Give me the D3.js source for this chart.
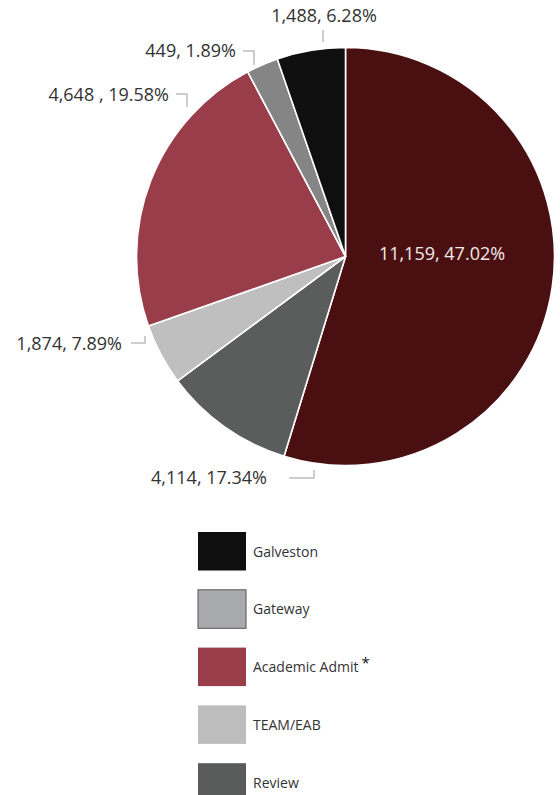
<!DOCTYPE html>
<html>
<head>
<meta charset="utf-8">
<script src="https://cdnjs.cloudflare.com/ajax/libs/d3/7.8.5/d3.min.js"></script>
<style>
    body { margin: 0; background: #fff; }
    svg text { font-family: "Open Sans", "Noto Sans", sans-serif; }
</style>
</head>
<body>
<div id="chart"></div>
<script>
// slices in drawing order, clockwise from 12 o'clock
const categories = ["Main", "Review", "TEAM/EAB", "Academic Admit", "Gateway", "Galveston"];
// slice sizes as drawn in the picture (percent of circle)
const drawnShares = [54.75, 10.1, 4.75, 22.65, 2.46, 5.29];
// printed label values
const counts = ["11,159", "4,114", "1,874", "4,648 ", "449", "1,488"];
const percents = ["47.02%", "17.34%", "7.89%", "19.58%", "1.89%", "6.28%"];
const sliceColours = ["#4a1011", "#5b5d5c", "#bfbfbf", "#9a3d4a", "#858585", "#0f0f0f"];

const legendNames = ["Galveston", "Gateway", "Academic Admit", "TEAM/EAB", "Review"];
const legendColours = ["#0f0f0f", "#a9aaae", "#9a3d4a", "#bdbdbd", "#5a5c5b"];

const WIDTH = 560;
const HEIGHT = 795;
const CENTER_X = 345.5;
const CENTER_Y = 256.5;
const RADIUS = 209;
const LEADER = "#bdbdbd";
const TEXT = "#333";
const LABEL_SIZE = 18;

// callout placement: text anchor point + leader polyline, by slice index
const callouts = [
    null,
    { tx: 267, ty: 484, anchor: "end", line: [[289, 478], [314, 478], [314, 470]] },
    { tx: 122, ty: 350, anchor: "end", line: [[131, 343], [145, 343], [145, 336]] },
    { tx: 169, ty: 101, anchor: "end", line: [[176, 94], [187, 94], [187, 107]] },
    { tx: 236, ty: 57, anchor: "end", line: [[243, 51], [254, 51], [254, 65]] },
    { tx: 324, ty: 22, anchor: "middle", line: [[323, 30], [323, 42]] }
];

function plotPie(svg) {
    const pie = d3.pie().sort(null).value(d => d.share);
    const arc = d3.arc().innerRadius(0).outerRadius(RADIUS);
    const dataset = categories.map((name, i) => ({ name: name, share: drawnShares[i], index: i }));

    const g = svg.append("g")
        .attr("transform", `translate(${ CENTER_X }, ${ CENTER_Y })`);

    g.selectAll("path")
        .data(pie(dataset))
        .enter()
        .append("path")
            .attr("d", arc)
            .attr("fill", d => sliceColours[d.data.index])
            .attr("stroke", "#fff")
            .attr("stroke-width", 1.6)
            .attr("stroke-linejoin", "round");

    // main slice label sits inside
    g.append("text")
        .attr("x", 96.5)
        .attr("y", 3)
        .attr("text-anchor", "middle")
        .attr("font-size", LABEL_SIZE)
        .attr("fill", "#f2eaea")
        .text(counts[0] + ", " + percents[0]);
}

function plotCallouts(svg) {
    const line = d3.line();
    callouts.forEach((c, i) => {
        if (!c) return;
        svg.append("path")
            .attr("d", line(c.line))
            .attr("fill", "none")
            .attr("stroke", LEADER)
            .attr("stroke-width", 1.5);
        svg.append("text")
            .attr("x", c.tx)
            .attr("y", c.ty)
            .attr("text-anchor", c.anchor)
            .attr("font-size", LABEL_SIZE)
            .attr("fill", TEXT)
            .text(counts[i] + ", " + percents[i]);
    });
}

function plotLegend(svg) {
    const y = d3.scaleBand()
        .domain(legendNames)
        .range([532, 532 + 57.8 * legendNames.length]);

    const items = svg.selectAll(".legend")
        .data(legendNames)
        .enter()
        .append("g")
            .attr("class", "legend")
            .attr("transform", d => `translate(198, ${ y(d) })`);

    items.append("rect")
        .attr("width", 48)
        .attr("height", 38.5)
        .attr("fill", (d, i) => legendColours[i])
        .attr("stroke", d => d === "Gateway" ? "#555" : "none")
        .attr("stroke-width", 1);

    const label = items.append("text")
        .attr("x", 55)
        .attr("y", 24.5)
        .attr("font-size", 14)
        .attr("fill", TEXT)
        .text(d => d);

    label.filter(d => d === "Academic Admit")
        .append("tspan")
            .attr("dx", 3)
            .attr("dy", -4)
            .attr("font-size", 15)
            .attr("fill", "#111")
            .text("*");
}

const svg = d3.select("#chart")
    .append("svg")
        .attr("width", WIDTH)
        .attr("height", HEIGHT);

plotPie(svg);
plotCallouts(svg);
plotLegend(svg);
</script>
</body>
</html>
